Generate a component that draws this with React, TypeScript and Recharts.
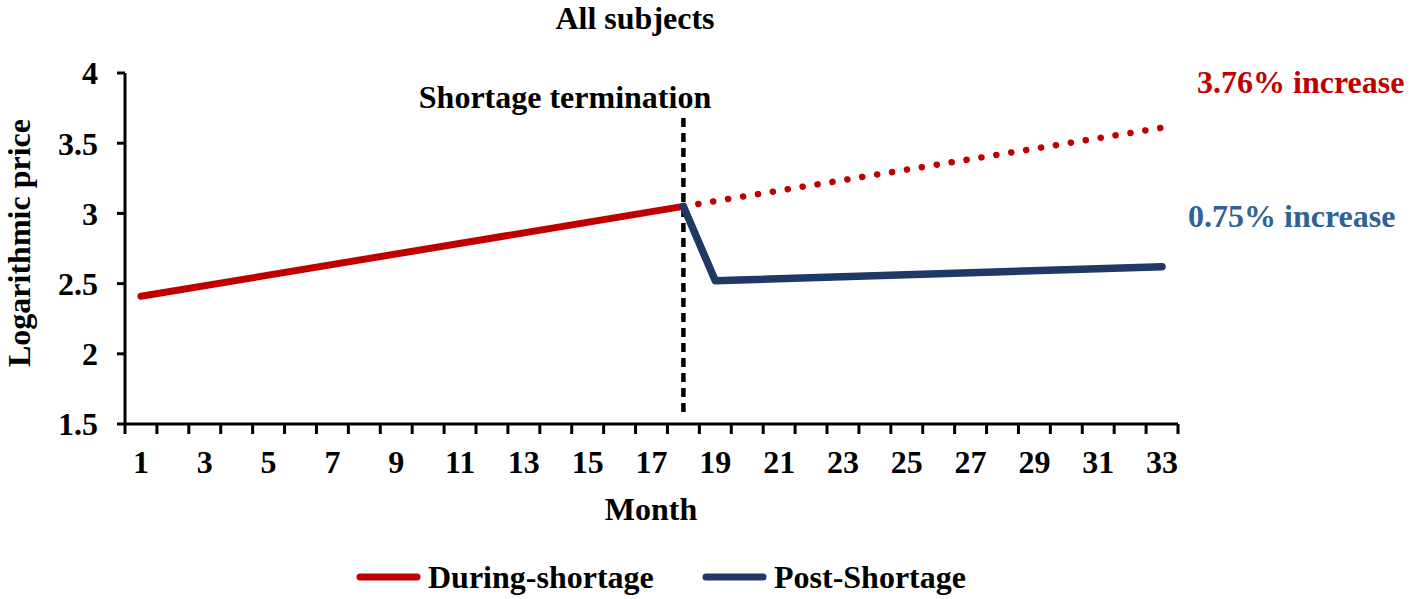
import React from "react";
import { LineChart, Line, XAxis, YAxis, ReferenceLine } from "recharts";

// ---- data ----
const months = [1, 2, 3, 4, 5, 6, 7, 8, 9, 10, 11, 12, 13, 14, 15, 16, 17, 18, 19, 20, 21, 22, 23, 24, 25, 26, 27, 28, 29, 30, 31, 32, 33];
const monthLabels = [1, 3, 5, 7, 9, 11, 13, 15, 17, 19, 21, 23, 25, 27, 29, 31, 33];
const yTicks = [1.5, 2, 2.5, 3, 3.5, 4];
const terminationMonth = 18;

const duringShortage = [
  { month: 1, value: 2.41 },
  { month: 18, value: 3.05 },
];
const counterfactual = [
  { month: 18, value: 3.05 },
  { month: 33, value: 3.61 },
];
const postShortage = [
  { month: 18, value: 3.05 },
  { month: 19, value: 2.52 },
  { month: 33, value: 2.62 },
];

const seriesLegend = [
  { name: "During-shortage", color: "#C00000" },
  { name: "Post-Shortage", color: "#1F3864" },
];

const FONT = '"Liberation Serif", "Times New Roman", serif';
const RED = "#C00000";
const NAVY = "#1F3864";
const STEEL = "#2E6394";

const xTickValues = [...months.map((m) => m - 0.5), months[months.length - 1] + 0.5, ...monthLabels];

const XTick = (props: any) => {
  const { x, y, payload } = props;
  const v = payload.value as number;
  if (!Number.isInteger(v)) {
    return <line x1={x} x2={x} y1={y} y2={y + 10} stroke="#000" strokeWidth={3} />;
  }
  return (
    <text x={x} y={y + 49} textAnchor="middle" fontFamily={FONT} fontWeight="bold" fontSize={32} fill="#000">
      {v}
    </text>
  );
};

export default function App() {
  return (
    <div style={{ position: "absolute", left: 0, top: 0, width: 1417, height: 599, background: "#fff" }}>
      <LineChart
        width={1417}
        height={599}
        margin={{ top: 73, right: 239, left: 0, bottom: 115 }}
      >
        <XAxis
          dataKey="month"
          type="number"
          domain={[0.5, 33.5]}
          ticks={xTickValues}
          interval={0}
          tickLine={false}
          tickSize={0}
          tickMargin={0}
          height={60}
          axisLine={{ stroke: "#000", strokeWidth: 3 }}
          tick={<XTick />}
          allowDuplicatedCategory={false}
        />
        <YAxis
          type="number"
          domain={[1.5, 4]}
          ticks={yTicks}
          width={125}
          tickSize={8}
          tickMargin={19}
          axisLine={{ stroke: "#000", strokeWidth: 3 }}
          tickLine={{ stroke: "#000", strokeWidth: 3 }}
          tick={{ fontFamily: FONT, fontWeight: "bold", fontSize: 32, fill: "#000" }}
        />
        <ReferenceLine
          segment={[
            { x: terminationMonth, y: 3.68 },
            { x: terminationMonth, y: 1.56 },
          ]}
          stroke="#000"
          strokeWidth={4.5}
          strokeDasharray="9 6"
        />
        <Line
          data={counterfactual}
          dataKey="value"
          stroke={RED}
          strokeWidth={6.5}
          strokeDasharray="0.1 15"
          strokeLinecap="round"
          dot={false}
          activeDot={false}
          isAnimationActive={false}
          legendType="none"
        />
        <Line
          data={duringShortage}
          dataKey="value"
          name="During-shortage"
          stroke={RED}
          strokeWidth={7}
          strokeLinecap="round"
          dot={false}
          activeDot={false}
          isAnimationActive={false}
        />
        <Line
          data={postShortage}
          dataKey="value"
          name="Post-Shortage"
          stroke={NAVY}
          strokeWidth={7.5}
          strokeLinecap="round"
          strokeLinejoin="round"
          dot={false}
          activeDot={false}
          isAnimationActive={false}
        />
      </LineChart>
      <svg
        width={1417}
        height={599}
        style={{ position: "absolute", left: 0, top: 0, pointerEvents: "none" }}
        fontFamily={FONT}
        fontWeight="bold"
        fontSize={32}
      >
        <text x={635} y={29} textAnchor="middle" fill="#000">All subjects</text>
        <text x={565} y={108} textAnchor="middle" fill="#000">Shortage termination</text>
        <text x={1197} y={93} fill={RED}>3.76% increase</text>
        <text x={1188} y={227} fill={STEEL}>0.75% increase</text>
        <text x={651} y={520} textAnchor="middle" fill="#000">Month</text>
        <text x={30} y={243} textAnchor="middle" fill="#000" transform="rotate(-90 30 243)">
          Logarithmic price
        </text>
        {seriesLegend.map((s, i) => {
          const x0 = i === 0 ? 357 : 703;
          return (
            <g key={s.name}>
              <line x1={x0 + 3} x2={x0 + 60} y1={577} y2={577} stroke={s.color} strokeWidth={7} strokeLinecap="round" />
              <text x={x0 + 71} y={588} fill="#000">{s.name}</text>
            </g>
          );
        })}
      </svg>
    </div>
  );
}
